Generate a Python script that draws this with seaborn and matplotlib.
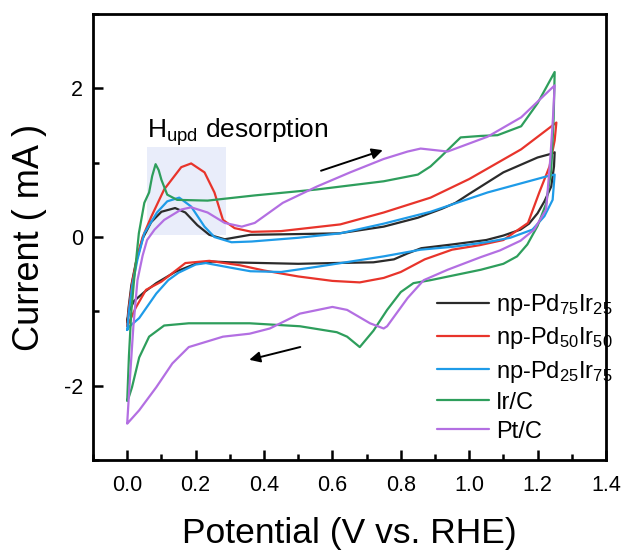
import numpy as np
import pandas as pd
import matplotlib
matplotlib.use("Agg")
import matplotlib.pyplot as plt
from matplotlib.ticker import MultipleLocator
import seaborn as sns

# ---------------- data ----------------
samples = ["np-Pd$_{75}$Ir$_{25}$", "np-Pd$_{50}$Ir$_{50}$", "np-Pd$_{25}$Ir$_{75}$", "Ir/C", "Pt/C"]
colors = ["#2b2b2b", "#e8342b", "#1e9be8", "#2e9e5c", "#b36fe2"]

# np-Pd75Ir25
pd75_E = [0.0, 0.004, 0.012, 0.025, 0.045, 0.07, 0.1, 0.14, 0.17, 0.205, 0.24, 0.285, 0.36, 0.5, 0.62,
          0.75, 0.85, 0.92, 0.96, 1.0, 1.1, 1.2, 1.24, 1.25,
          1.248, 1.24, 1.22, 1.2, 1.175, 1.15, 1.1, 1.05, 0.95, 0.86, 0.82, 0.78, 0.72, 0.6, 0.5, 0.4,
          0.3, 0.25, 0.2, 0.14, 0.085, 0.05, 0.02, 0.005, 0.0]
pd75_I = [-1.15, -0.95, -0.65, -0.35, -0.02, 0.2, 0.34, 0.39, 0.33, 0.16, 0.03, -0.03, 0.03, 0.04, 0.05,
          0.14, 0.26, 0.38, 0.46, 0.58, 0.87, 1.07, 1.12, 1.14,
          0.95, 0.68, 0.48, 0.32, 0.18, 0.1, 0.02, -0.04, -0.1, -0.15, -0.22, -0.3, -0.34, -0.35, -0.36, -0.35,
          -0.34, -0.33, -0.36, -0.47, -0.62, -0.74, -0.86, -1.0, -1.15]

# np-Pd50Ir50
pd50_E = [0.0, 0.005, 0.015, 0.03, 0.045, 0.07, 0.108, 0.158, 0.187, 0.226, 0.255, 0.28, 0.314, 0.364,
          0.45, 0.623, 0.75, 0.887, 1.0, 1.152, 1.255,
          1.25, 1.235, 1.205, 1.172, 1.1, 1.03, 0.95, 0.87, 0.8, 0.75, 0.68, 0.6, 0.5, 0.4, 0.33, 0.24,
          0.17, 0.1, 0.055, 0.025, 0.01, 0.0]
pd50_I = [-1.2, -0.95, -0.6, -0.25, 0.0, 0.27, 0.64, 0.94, 0.99, 0.87, 0.6, 0.23, 0.12, 0.07,
          0.08, 0.17, 0.33, 0.53, 0.78, 1.18, 1.54,
          1.3, 0.95, 0.6, 0.19, -0.04, -0.11, -0.17, -0.3, -0.47, -0.55, -0.61, -0.59, -0.53, -0.45, -0.38, -0.32,
          -0.35, -0.6, -0.71, -0.95, -1.1, -1.2]

# np-Pd25Ir75
pd25_E = [0.0, 0.005, 0.015, 0.03, 0.05, 0.087, 0.117, 0.152, 0.187, 0.226, 0.255, 0.305, 0.364, 0.5,
          0.623, 0.75, 0.887, 1.054, 1.23, 1.25,
          1.244, 1.22, 1.185, 1.12, 1.05, 0.955, 0.858, 0.75, 0.555, 0.45, 0.36, 0.3, 0.23, 0.2, 0.15,
          0.12, 0.085, 0.035, 0.005, 0.0]
pd25_I = [-1.25, -1.0, -0.65, -0.3, 0.05, 0.33, 0.48, 0.53, 0.41, 0.14, 0.0, -0.07, -0.06, -0.01,
          0.05, 0.18, 0.34, 0.6, 0.82, 0.84,
          0.5, 0.28, 0.1, -0.01, -0.07, -0.13, -0.17, -0.26, -0.4, -0.47, -0.46, -0.41, -0.35, -0.37, -0.48,
          -0.58, -0.76, -1.09, -1.21, -1.25]

# Ir/C
irc_E = [0.0, 0.005, 0.012, 0.02, 0.034, 0.05, 0.064, 0.073, 0.083, 0.092, 0.1, 0.117, 0.146, 0.235,
         0.373, 0.555, 0.75, 0.85, 0.887, 0.917, 0.975, 1.034, 1.083, 1.152, 1.2, 1.25,
         1.247, 1.24, 1.225, 1.2, 1.17, 1.14, 1.1, 1.034, 0.95, 0.887, 0.837, 0.8, 0.76, 0.72, 0.68,
         0.643, 0.613, 0.505, 0.358, 0.18, 0.108, 0.064, 0.035, 0.014, 0.005, 0.0]
irc_I = [-2.2, -1.6, -1.0, -0.58, 0.05, 0.46, 0.6, 0.82, 0.98, 0.9, 0.77, 0.57, 0.5, 0.49,
         0.56, 0.64, 0.75, 0.84, 0.95, 1.08, 1.34, 1.36, 1.37, 1.49, 1.8, 2.22,
         1.6, 0.9, 0.45, 0.15, -0.1, -0.26, -0.36, -0.44, -0.52, -0.58, -0.62, -0.74, -0.98, -1.26, -1.48,
         -1.34, -1.28, -1.2, -1.16, -1.16, -1.19, -1.34, -1.62, -2.02, -2.15, -2.2]

# Pt/C
ptc_E = [0.0, 0.008, 0.018, 0.03, 0.045, 0.058, 0.08, 0.108, 0.158, 0.187, 0.235, 0.285, 0.335, 0.373,
         0.455, 0.555, 0.652, 0.75, 0.82, 0.858, 0.937, 1.054, 1.152, 1.25,
         1.245, 1.237, 1.225, 1.19, 1.15, 1.09, 1.034, 0.937, 0.867, 0.82, 0.76, 0.75, 0.71, 0.643, 0.6,
         0.505, 0.417, 0.358, 0.28, 0.18, 0.132, 0.085, 0.035, 0.0]
ptc_I = [-2.5, -1.9, -1.2, -0.58, -0.25, -0.04, 0.1, 0.23, 0.37, 0.40, 0.33, 0.19, 0.14, 0.19,
         0.46, 0.68, 0.87, 1.05, 1.15, 1.19, 1.15, 1.35, 1.61, 2.04,
         1.6, 1.04, 0.37, 0.1, -0.05, -0.18, -0.27, -0.44, -0.58, -0.82, -1.2, -1.23, -1.16, -0.98, -0.94,
         -1.03, -1.23, -1.3, -1.34, -1.48, -1.7, -2.02, -2.33, -2.51]

curves_E = [pd75_E, pd50_E, pd25_E, irc_E, ptc_E]
curves_I = [pd75_I, pd50_I, pd25_I, irc_I, ptc_I]

x_ticks = [0.0, 0.2, 0.4, 0.6, 0.8, 1.0, 1.2, 1.4]
y_ticks = [-2, 0, 2]

# ---------------- build long table ----------------
frames = []
for name, E, I in zip(samples, curves_E, curves_I):
    frames.append(pd.DataFrame({"E": E, "I": I, "sample": name}))
df = pd.concat(frames, ignore_index=True)

# ---------------- style ----------------
sns.set_style("ticks")
plt.rcParams["font.family"] = ["Liberation Sans", "DejaVu Sans"]
plt.rcParams["mathtext.default"] = "regular"
plt.rcParams["axes.unicode_minus"] = False
for k in ["text.color", "axes.labelcolor", "xtick.color", "ytick.color", "axes.edgecolor"]:
    plt.rcParams[k] = "black"

fig = plt.figure(figsize=(6.26, 5.51), dpi=100)
ax = fig.add_axes([0.1486, 0.165, 0.8194, 0.8096])

# H_upd highlight box
ax.axvspan(0.058, 0.29, ymin=(0.03 + 3) / 6, ymax=(1.21 + 3) / 6, color="#e9edfa", zorder=0, lw=0)

sns.lineplot(data=df, x="E", y="I", hue="sample", hue_order=samples, palette=colors,
             sort=False, estimator=None, lw=1.6, ax=ax, zorder=3)
for ln in ax.get_lines():
    ln.set_solid_joinstyle("round")
    ln.set_solid_capstyle("round")

ax.set_xlim(-0.1, 1.4)
ax.set_ylim(-3, 3)
ax.set_xticks(x_ticks)
ax.set_xticklabels([f"{v:.1f}" for v in x_ticks])
ax.set_yticks(y_ticks)
ax.xaxis.set_minor_locator(MultipleLocator(0.1))
ax.yaxis.set_minor_locator(MultipleLocator(1))
ax.tick_params(which="both", direction="in", width=1.8, colors="black", labelsize=15.5)
ax.tick_params(which="major", length=7)
ax.tick_params(which="minor", length=4)
ax.tick_params(axis="x", pad=11)
ax.tick_params(axis="y", pad=7)
for s in ax.spines.values():
    s.set_linewidth(2.0)
    s.set_color("black")

ax.set_xlabel("Potential (V vs. RHE)", fontsize=25.5)
ax.set_ylabel("Current ( mA )", fontsize=26)
ax.xaxis.set_label_coords(0.5, -0.127)
ax.yaxis.set_label_coords(-0.09, 0.5)

# annotation
ax.text(0.058, 1.34, "H$_{upd}$ desorption", fontsize=19, ha="left", va="baseline", zorder=4)
ax.annotate("", xy=(0.755, 1.18), xytext=(0.559, 0.88),
            arrowprops=dict(arrowstyle="-|>", color="black", lw=1.4, mutation_scale=16))
ax.annotate("", xy=(0.349, -1.66), xytext=(0.514, -1.47),
            arrowprops=dict(arrowstyle="-|>", color="black", lw=1.4, mutation_scale=16))

handles, labels = ax.get_legend_handles_labels()
ax.legend(handles, labels, loc="upper left", bbox_to_anchor=(0.67, 0.376), frameon=False,
          fontsize=17, borderpad=0, handlelength=2.2, handletextpad=0.3, labelspacing=0.3,
          borderaxespad=0)

fig.savefig("out.png", dpi=100)
